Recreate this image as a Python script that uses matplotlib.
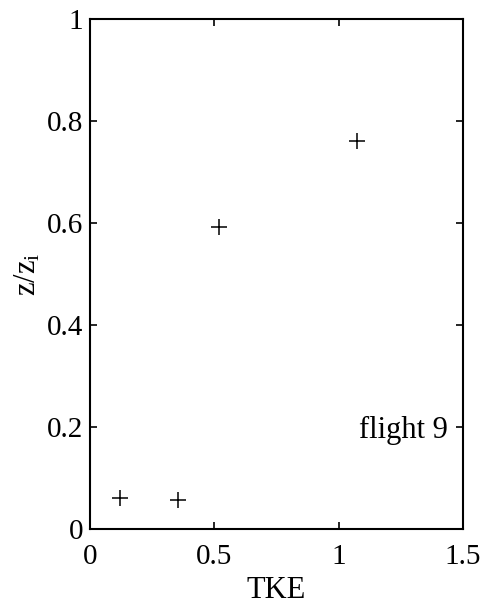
import matplotlib
matplotlib.use("Agg")
import matplotlib.pyplot as plt

tke = [0.12, 0.355, 0.52, 1.075]
z_zi = [0.061, 0.057, 0.592, 0.760]
xticks = [0, 0.5, 1, 1.5]
xticklabels = ["0", "0.5", "1", "1.5"]
yticks = [0, 0.2, 0.4, 0.6, 0.8, 1.0]
yticklabels = ["0", "0.2", "0.4", "0.6", "0.8", "1"]

plt.rcParams['font.family'] = ['Liberation Serif', 'DejaVu Serif']
plt.rcParams['mathtext.fontset'] = 'custom'
plt.rcParams['mathtext.rm'] = 'Liberation Serif'
plt.rcParams['mathtext.it'] = 'Liberation Serif'

fig = plt.figure(figsize=(4.84, 6.10), dpi=100)
ax = fig.add_axes([90/484, 81/610, 373/484, 510/610])
ax.plot(tke, z_zi, linestyle='none', marker='+', markersize=12, markeredgewidth=1.1, color='black')
ax.set_xlim(0, 1.5)
ax.set_ylim(0, 1)
ax.set_xticks(xticks)
ax.set_xticklabels(xticklabels)
ax.set_yticks(yticks)
ax.set_yticklabels(yticklabels)
ax.tick_params(direction='in', length=5, width=1.2, top=True, right=True, labelsize=21, colors='black')
ax.tick_params(axis='x', pad=11)
ax.tick_params(axis='y', pad=5)
for s in ax.spines.values():
    s.set_linewidth(1.5)
ax.set_xlabel("TKE", fontsize=22, labelpad=4)
ax.set_ylabel(r"z/z$_{\mathrm{i}}$", fontsize=22, labelpad=3)
ax.text(0.96, 0.194, "flight 9", transform=ax.transAxes, fontsize=22, ha='right', va='center')
fig.savefig("out.png", dpi=100)
